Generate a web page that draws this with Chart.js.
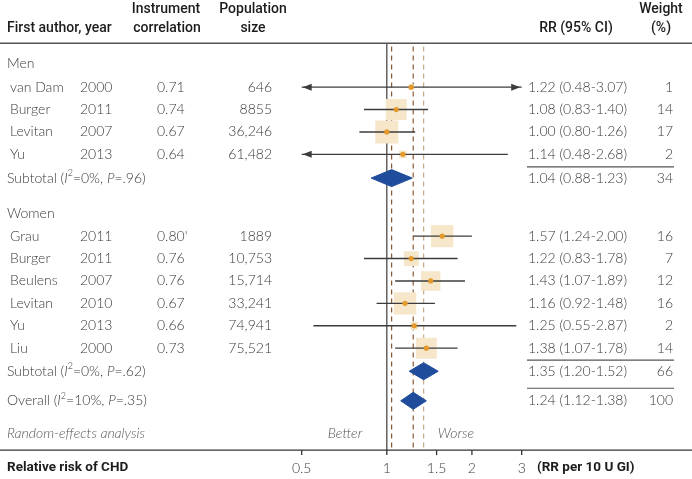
<!DOCTYPE html>
<html>
<head>
<meta charset="utf-8">
<script src="https://cdn.jsdelivr.net/npm/chart.js@4.4.1/dist/chart.umd.min.js"></script>
<style>
  html, body { margin: 0; padding: 0; background: #fff; }
  #wrap { width: 692px; height: 479px; position: relative; }
</style>
</head>
<body>
<div id="wrap"><canvas id="forestChart"></canvas></div>
<script>
// ---- Data: men ----
const menAuthors = ['van Dam', 'Burger', 'Levitan', 'Yu'];
const menYears = ['2000', '2011', '2007', '2013'];
const menCorr = ['0.71', '0.74', '0.67', '0.64'];
const menPop = ['646', '8855', '36,246', '61,482'];
const menRR = [1.22, 1.08, 1.00, 1.14];
const menLo = [0.48, 0.83, 0.80, 0.48];
const menHi = [3.07, 1.40, 1.26, 2.68];
const menWeight = [1, 14, 17, 2];

// ---- Data: women ----
const womenAuthors = ['Grau', 'Burger', 'Beulens', 'Levitan', 'Yu', 'Liu'];
const womenYears = ['2011', '2011', '2007', '2010', '2013', '2000'];
const womenCorr = ["0.80'", '0.76', '0.76', '0.67', '0.66', '0.73'];
const womenPop = ['1889', '10,753', '15,714', '33,241', '74,941', '75,521'];
const womenRR = [1.57, 1.22, 1.43, 1.16, 1.25, 1.38];
const womenLo = [1.24, 0.83, 1.07, 0.92, 0.55, 1.07];
const womenHi = [2.00, 1.78, 1.89, 1.48, 2.87, 1.78];
const womenWeight = [16, 7, 12, 16, 2, 14];

// ---- Pooled estimates: men subtotal, women subtotal, overall ----
const pooledRR = [1.04, 1.35, 1.24];
const pooledLo = [0.88, 1.20, 1.12];
const pooledHi = [1.23, 1.52, 1.38];
const pooledWeight = [34, 66, 100];
const pooledI2 = ['0%', '0%', '10%'];
const pooledP = ['.96', '.62', '.35'];

const xTicks = [0.5, 1, 1.5, 2, 3];

// ---- Row layout (row units) ----
const menHeadRow = -1.07;
const menRows = menRR.map((_, i) => i);
const menSubRow = menRows[menRows.length - 1] + 1.06;
const womenHeadRow = menSubRow + 1.57;
const womenRows = womenRR.map((_, i) => womenHeadRow + 1.02 + i);
const womenSubRow = womenRows[womenRows.length - 1] + 1.03;
const overallRow = womenSubRow + 1.32;
const footRow = overallRow + 1.45;
const axisRow = footRow + 0.75;
const headRow1 = -3.46, headRow2 = -2.63, headLineRow = -1.96;
const pooledRows = [menSubRow, womenSubRow, overallRow];

const allRR = menRR.concat(womenRR);
const allLo = menLo.concat(womenLo);
const allHi = menHi.concat(womenHi);
const allW = menWeight.concat(womenWeight);
const allRows = menRows.concat(womenRows);

const X_MIN = 0.5, X_MAX = 3;
const fmt = v => v.toFixed(2);

// ---- Styles ----
const BODY = "'Lato', 'DejaVu Sans', sans-serif";
const HEAD = "'Roboto', 'DejaVu Sans', sans-serif";
const textCol = '#3a3a3a';

// ---- Datasets ----
const datasets = [];

// point estimate dots
datasets.push({
    type: 'scatter',
    data: allRR.map((v, i) => ({ x: v, y: allRows[i] })),
    pointStyle: 'circle',
    pointRadius: 2.6,
    backgroundColor: '#E39A2B',
    borderWidth: 0,
    order: 1
});

// confidence interval lines
allRR.forEach((v, i) => {
    datasets.push({
        type: 'line',
        data: [{ x: allLo[i], y: allRows[i] }, { x: allHi[i], y: allRows[i] }],
        borderColor: '#3c3c3c',
        borderWidth: 1.4,
        pointRadius: 0,
        order: 2
    });
});

// weight squares
datasets.push({
    type: 'scatter',
    data: allRR.map((v, i) => ({ x: v, y: allRows[i], w: allW[i] })),
    pointStyle: 'rect',
    pointRadius: ctx => 3.96 * Math.sqrt(ctx.raw.w),
    backgroundColor: '#F6E7CB',
    borderWidth: 0,
    order: 3
});

// pooled diamonds
pooledRR.forEach((v, i) => {
    const r = pooledRows[i];
    datasets.push({
        type: 'line',
        data: [
            { x: pooledLo[i], y: r },
            { x: v, y: r - 0.38 },
            { x: pooledHi[i], y: r },
            { x: v, y: r + 0.38 },
            { x: pooledLo[i], y: r }
        ],
        fill: 'shape',
        backgroundColor: '#1F4C9B',
        borderColor: '#1F4C9B',
        borderWidth: 1,
        pointRadius: 0,
        tension: 0,
        order: 3
    });
});

// reference lines: null effect + pooled estimates
datasets.push({
    type: 'line',
    data: [{ x: 1, y: headLineRow }, { x: 1, y: axisRow }],
    borderColor: '#4a4a4a',
    borderWidth: 1.3,
    pointRadius: 0,
    order: 6
});
const refColors = ['#8a5a36', '#c9a882', '#8a5a36'];
pooledRR.forEach((v, i) => {
    datasets.push({
        type: 'line',
        data: [{ x: v, y: headLineRow + 0.15 }, { x: v, y: axisRow - 0.1 }],
        borderColor: refColors[i],
        borderWidth: 1.2,
        borderDash: [5, 4],
        pointRadius: 0,
        order: 5
    });
});

// ---- Helper: draw text made of styled runs ----
function drawRuns(ctx, runs, x, y, align) {
    const size = 14;
    const fontFor = s => s === 'i' ? `italic 300 ${size}px ${BODY}`
        : s === 's' ? `300 9px ${BODY}` : `300 ${size}px ${BODY}`;
    let total = 0;
    runs.forEach(([t, s]) => { ctx.font = fontFor(s); total += ctx.measureText(t).width; });
    let cx = align === 'right' ? x - total : x;
    ctx.textAlign = 'left';
    runs.forEach(([t, s]) => {
        ctx.font = fontFor(s);
        ctx.fillText(t, cx, s === 's' ? y - 5 : y);
        cx += ctx.measureText(t).width;
    });
}

const forestText = {
    id: 'forestText',
    afterDatasetsDraw(chart) {
        const { ctx, scales: { x, y } } = chart;
        // arrowheads for truncated intervals
        ctx.save();
        ctx.fillStyle = '#3c3c3c';
        allRR.forEach((v, i) => {
            const py = y.getPixelForValue(allRows[i]);
            if (allLo[i] < X_MIN) {
                const px = x.getPixelForValue(X_MIN) + 1;
                ctx.beginPath();
                ctx.moveTo(px, py);
                ctx.lineTo(px + 9, py - 3.5);
                ctx.lineTo(px + 9, py + 3.5);
                ctx.closePath();
                ctx.fill();
            }
            if (allHi[i] > X_MAX) {
                const px = x.getPixelForValue(X_MAX) - 1.5;
                ctx.beginPath();
                ctx.moveTo(px, py);
                ctx.lineTo(px - 9, py - 3.5);
                ctx.lineTo(px - 9, py + 3.5);
                ctx.closePath();
                ctx.fill();
            }
        });
        ctx.restore();
    },
    afterDraw(chart) {
        const { ctx, scales: { x, y } } = chart;
        const W = chart.width;
        const py = r => y.getPixelForValue(r);
        ctx.save();
        ctx.textBaseline = 'middle';

        // header
        ctx.fillStyle = '#1c1c1c';
        ctx.font = `500 14px ${HEAD}`;
        ctx.textAlign = 'left';
        ctx.fillText('First author, year', 7, py(headRow2));
        ctx.textAlign = 'center';
        ctx.fillText('Instrument', 166, py(headRow1));
        ctx.fillText('correlation', 167, py(headRow2));
        ctx.fillText('Population', 253, py(headRow1));
        ctx.fillText('size', 253, py(headRow2));
        ctx.fillText('RR (95% CI)', 576, py(headRow2));
        ctx.fillText('Weight', 661, py(headRow1));
        ctx.fillText('(%)', 661, py(headRow2));

        // header rule
        ctx.strokeStyle = '#555';
        ctx.lineWidth = 1.5;
        ctx.beginPath();
        ctx.moveTo(0, py(headLineRow));
        ctx.lineTo(W, py(headLineRow));
        ctx.stroke();

        // body rows
        ctx.fillStyle = textCol;
        const groups = [
            { head: 'Men', headRow: menHeadRow, rows: menRows, a: menAuthors, yr: menYears, c: menCorr, p: menPop, rr: menRR, lo: menLo, hi: menHi, w: menWeight },
            { head: 'Women', headRow: womenHeadRow, rows: womenRows, a: womenAuthors, yr: womenYears, c: womenCorr, p: womenPop, rr: womenRR, lo: womenLo, hi: womenHi, w: womenWeight }
        ];
        groups.forEach(g => {
            drawRuns(ctx, [[g.head, '']], 7, py(g.headRow), 'left');
            g.rows.forEach((r, i) => {
                const yy = py(r);
                drawRuns(ctx, [[g.a[i], '']], 10, yy, 'left');
                drawRuns(ctx, [[g.yr[i], '']], 80, yy, 'left');
                drawRuns(ctx, [[g.c[i], '']], 157, yy, 'left');
                drawRuns(ctx, [[g.p[i], '']], 272, yy, 'right');
                drawRuns(ctx, [[`${fmt(g.rr[i])} (${fmt(g.lo[i])}-${fmt(g.hi[i])})`, '']], 528, yy, 'left');
                drawRuns(ctx, [[String(g.w[i]), '']], 673, yy, 'right');
            });
        });

        // pooled rows
        const pooledNames = ['Subtotal', 'Subtotal', 'Overall'];
        pooledRows.forEach((r, i) => {
            const yy = py(r);
            drawRuns(ctx, [[pooledNames[i] + ' (', ''], ['I', 'i'], ['2', 's'], ['=' + pooledI2[i] + ', ', ''], ['P', 'i'], ['=' + pooledP[i] + ')', '']], 7, yy, 'left');
            drawRuns(ctx, [[`${fmt(pooledRR[i])} (${fmt(pooledLo[i])}-${fmt(pooledHi[i])})`, '']], 528, yy, 'left');
            drawRuns(ctx, [[String(pooledWeight[i]), '']], 673, yy, 'right');
            // rule above pooled value
            const ly = yy - (i === 2 ? 0.56 : 0.5) * (py(1) - py(0));
            ctx.strokeStyle = '#555';
            ctx.lineWidth = 1.2;
            ctx.beginPath();
            ctx.moveTo(527, ly);
            ctx.lineTo(674, ly);
            ctx.stroke();
        });

        // footer notes
        ctx.fillStyle = '#555';
        drawRuns(ctx, [['Random-effects analysis', 'i']], 7, py(footRow), 'left');
        ctx.font = `italic 300 14px ${BODY}`;
        ctx.textAlign = 'center';
        ctx.fillText('Better', 345, py(footRow));
        ctx.fillText('Worse', 456, py(footRow));

        // x axis
        const ay = py(axisRow);
        ctx.strokeStyle = '#333';
        ctx.lineWidth = 1.3;
        ctx.beginPath();
        ctx.moveTo(0, ay);
        ctx.lineTo(W, ay);
        ctx.stroke();
        ctx.fillStyle = textCol;
        ctx.font = `300 14px ${BODY}`;
        xTicks.forEach(t => {
            const px = x.getPixelForValue(t);
            ctx.beginPath();
            ctx.moveTo(px, ay);
            ctx.lineTo(px, ay + 5);
            ctx.stroke();
            ctx.textAlign = 'center';
            ctx.fillText(String(t), px, ay + 18);
        });
        ctx.fillStyle = '#1c1c1c';
        ctx.font = `700 13.5px ${HEAD}`;
        ctx.textAlign = 'left';
        ctx.fillText('Relative risk of CHD', 7, ay + 18);
        ctx.fillText('(RR per 10 U GI)', 537, ay + 18);
        ctx.restore();
    }
};

new Chart(document.getElementById('forestChart'), {
    type: 'scatter',
    data: { datasets },
    options: {
        responsive: true,
        maintainAspectRatio: false,
        animation: false,
        events: [],
        layout: { autoPadding: false, padding: { left: 301.7, right: 170.3, top: 2, bottom: 2 } },
        plugins: { legend: { display: false }, tooltip: { enabled: false } },
        scales: {
            x: { type: 'logarithmic', min: X_MIN, max: X_MAX, display: false },
            y: { type: 'linear', min: -3.8, max: 17.4, reverse: true, display: false }
        }
    },
    plugins: [forestText]
});
</script>
</body>
</html>
